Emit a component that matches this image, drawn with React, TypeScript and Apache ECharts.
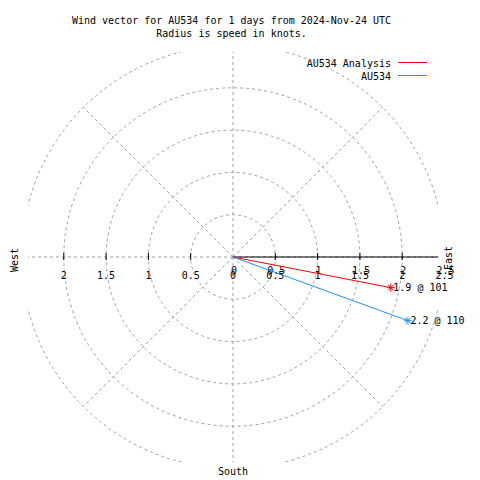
import React, { useEffect, useRef } from "react";
import * as echarts from "echarts";

// ---- data ----
const titleLines = [
  "Wind vector for AU534 for 1 days from 2024-Nov-24 UTC",
  "Radius is speed in knots.",
];
const seriesNames = ["AU534 Analysis", "AU534"];
const speeds = [1.9, 2.2];
const directions = [101, 110];
const seriesColors = ["#ff0000", "#1e90ff"];
const ringValues = [0.5, 1, 1.5, 2, 2.5];
const spokeAngles = [0, 45, 90, 135, 180, 225, 270, 315];
const rightTicks = [0, 0.5, 1, 1.5, 2, 2.5];
const leftTicks = [0, 0.5, 1, 1.5, 2];
const compassWest = "West";
const compassEast = "East";
const compassSouth = "South";

// ---- layout ----
const CX = 233;
const CY = 257;
const HALF = 205;
const RMAX = 2.423;
const FONT = "DejaVu Sans Mono";
const GRID_COLOR = "#a0a0a0";
const DASH = [3, 3];

const asterisk = "path://M0,5L10,5M5,0L5,10M1.5,1.5L8.5,8.5M8.5,1.5L1.5,8.5";

export default function App() {
  const ref = useRef<HTMLDivElement>(null);

  useEffect(() => {
    document.body.style.margin = "0";
    if (!ref.current) return;
    const chart = echarts.init(ref.current, null, { renderer: "svg" });

    const ringSeries = {
      type: "custom",
      name: "rings",
      coordinateSystem: "cartesian2d",
      clip: true,
      silent: true,
      z: 1,
      data: ringValues.map((v) => [v, 0]),
      renderItem: (_p: any, api: any) => {
        const c = api.coord([0, 0]);
        const r = api.size([api.value(0), 0])[0];
        return {
          type: "circle",
          shape: { cx: c[0], cy: c[1], r },
          style: { fill: "none", stroke: GRID_COLOR, lineWidth: 1, lineDash: DASH },
        };
      },
    };

    const outerR = ringValues[ringValues.length - 1];
    const spokeSeries = {
      type: "custom",
      name: "spokes",
      coordinateSystem: "cartesian2d",
      clip: true,
      silent: true,
      z: 1,
      data: spokeAngles.map((a) => [a, 0]),
      renderItem: (_p: any, api: any) => {
        const a = (api.value(0) * Math.PI) / 180;
        const c = api.coord([0, 0]);
        const e = api.coord([outerR * Math.sin(a), outerR * Math.cos(a)]);
        return {
          type: "line",
          shape: { x1: c[0], y1: c[1], x2: e[0], y2: e[1] },
          style: { stroke: GRID_COLOR, lineWidth: 1, lineDash: DASH },
        };
      },
    };

    const axisSeries = {
      type: "custom",
      name: "raxis",
      coordinateSystem: "cartesian2d",
      clip: false,
      silent: true,
      z: 2,
      data: [[0, 0]],
      renderItem: (_p: any, api: any) => {
        const c = api.coord([0, 0]);
        const end = api.coord([RMAX, 0]);
        const children: any[] = [
          {
            type: "line",
            shape: { x1: c[0], y1: c[1], x2: end[0], y2: end[1] },
            style: { stroke: "#000", lineWidth: 1 },
          },
        ];
        const txt = (x: number, y: number, t: string) => ({
          type: "text",
          x,
          y,
          style: {
            text: t,
            fontFamily: FONT,
            fontSize: 10,
            fill: "#000",
            align: "center",
            verticalAlign: "middle",
          },
        });
        rightTicks.forEach((v) => {
          const p = api.coord([v, 0]);
          if (v > 0 && v <= RMAX) {
            children.push({
              type: "line",
              shape: { x1: p[0], y1: p[1] - 4, x2: p[0], y2: p[1] + 3 },
              style: { stroke: "#000", lineWidth: 1 },
            });
          }
          children.push(txt(p[0], p[1] + 18, String(v)));
          children.push(txt(p[0] + 1, p[1] + 13, String(v)));
        });
        leftTicks.forEach((v) => {
          const p = api.coord([-v, 0]);
          if (v > 0) {
            children.push({
              type: "line",
              shape: { x1: p[0], y1: p[1] - 4, x2: p[0], y2: p[1] + 3 },
              style: { stroke: "#000", lineWidth: 1 },
            });
            children.push(txt(p[0], p[1] + 18, String(v)));
          }
        });
        return { type: "group", children };
      },
    };

    const vectorSeries = seriesNames.map((name, i) => ({
      type: "line",
      name,
      coordinateSystem: "polar",
      z: 5,
      symbol: asterisk,
      symbolSize: 8,
      color: seriesColors[i],
      lineStyle: { color: seriesColors[i], width: 1 },
      itemStyle: { color: seriesColors[i], borderColor: seriesColors[i], borderWidth: 1 },
      data: [
        { value: [0, directions[i]], symbol: "none", label: { show: false } },
        {
          value: [speeds[i], directions[i]],
          label: {
            show: true,
            position: "right",
            distance: -2,
            formatter: () => `${speeds[i]} @ ${directions[i]}`,
            fontFamily: FONT,
            fontSize: 10,
            color: "#000",
          },
        },
      ],
    }));

    const textStyle = (t: string, align: string) => ({
      text: t,
      fontFamily: FONT,
      fontSize: 10,
      fill: "#000",
      align,
      verticalAlign: "middle",
    });

    const graphics: any[] = [
      ...titleLines.map((t, i) => ({
        type: "text",
        x: 231.5,
        y: 20 + i * 13,
        style: textStyle(t, "center"),
      })),
      ...seriesNames.map((n, i) => ({
        type: "text",
        x: 391,
        y: 63 + i * 13,
        style: textStyle(n, "right"),
      })),
      ...seriesNames.map((_n, i) => ({
        type: "line",
        shape: { x1: 398, y1: 62.5 + i * 13, x2: 427, y2: 62.5 + i * 13 },
        style: { stroke: seriesColors[i], lineWidth: 1 },
      })),
      {
        type: "text",
        x: 14,
        y: 260,
        rotation: Math.PI / 2,
        style: textStyle(compassWest, "center"),
      },
      {
        type: "text",
        x: 448,
        y: 258,
        rotation: Math.PI / 2,
        style: textStyle(compassEast, "center"),
      },
      {
        type: "text",
        x: CX,
        y: 471,
        style: textStyle(compassSouth, "center"),
      },
    ];

    chart.setOption({
      animation: false,
      grid: { left: CX - HALF, top: CY - HALF, width: 2 * HALF, height: 2 * HALF },
      xAxis: { type: "value", min: -RMAX, max: RMAX, show: false },
      yAxis: { type: "value", min: -RMAX, max: RMAX, show: false },
      polar: { center: [CX, CY], radius: HALF },
      radiusAxis: {
        type: "value",
        min: 0,
        max: RMAX,
        show: false,
        axisLine: { show: false },
        splitLine: { show: false },
        axisLabel: { show: false },
        axisTick: { show: false },
      },
      angleAxis: {
        type: "value",
        min: 0,
        max: 360,
        startAngle: 90,
        clockwise: true,
        show: false,
        axisLine: { show: false },
        splitLine: { show: false },
        axisLabel: { show: false },
        axisTick: { show: false },
      },
      graphic: graphics,
      series: [ringSeries, spokeSeries, axisSeries, ...vectorSeries],
    } as any);

    return () => chart.dispose();
  }, []);

  return <div ref={ref} style={{ width: 480, height: 480 }} />;
}
